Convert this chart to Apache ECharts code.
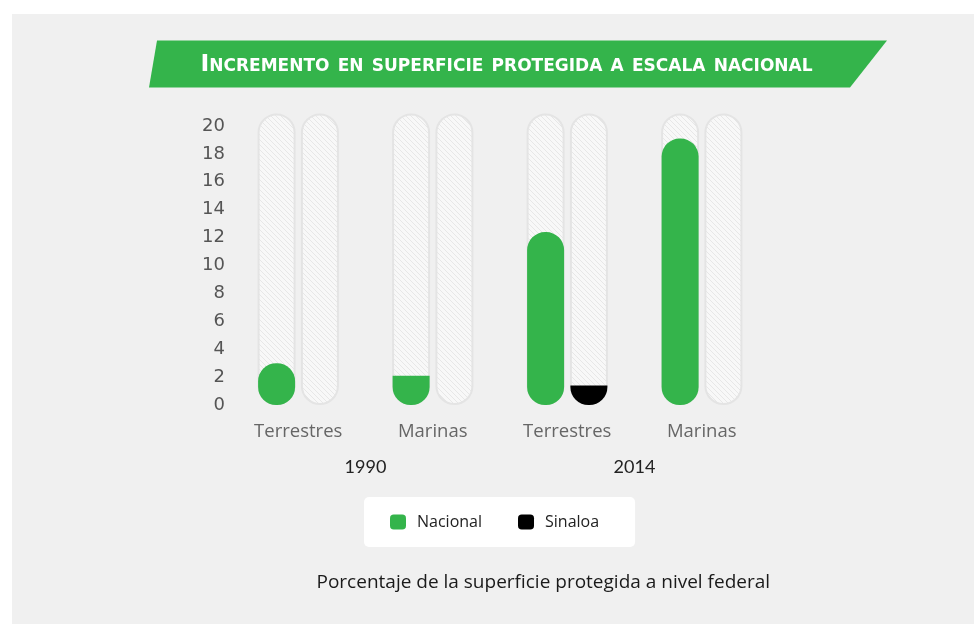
<!DOCTYPE html>
<html>
<head>
<meta charset="utf-8">
<script src="https://cdn.jsdelivr.net/npm/echarts@6/dist/echarts.min.js"></script>
<style>
  html, body { margin: 0; padding: 0; background: #ffffff; }
  #chart { width: 974px; height: 624px; }
</style>
</head>
<body>
<div id="chart"></div>
<script>
// Categories and values (percent of surface under federal protection)
const categories = ['Terrestres', 'Marinas', 'Terrestres', 'Marinas'];
const years = ['1990', '2014'];
const nacional = [3.0, 2.1, 12.4, 19.1];
const sinaloa = [null, null, 1.4, null];
const yMin = 0;
const yMax = 20;
const yStep = 2;

const titleText = 'Incremento en superficie protegida a escala nacional';
const captionText = 'Porcentaje de la superficie protegida a nivel federal';

const GREEN = '#34b44b';
const BLACK = '#000000';
const TRACK_TOP = 20.9;   // height of the empty capsule behind each bar

// Diagonal hatch used to fill the empty capsules
function hatchPattern() {
  const s = 5;
  const c = document.createElement('canvas');
  c.width = s; c.height = s;
  const g = c.getContext('2d');
  g.fillStyle = '#f8f8f8';
  g.fillRect(0, 0, s, s);
  g.strokeStyle = '#e7e7e7';
  g.lineWidth = 1;
  g.beginPath();
  g.moveTo(-1, -1); g.lineTo(s + 1, s + 1);
  g.moveTo(-1, s - 1); g.lineTo(1, s + 1);
  g.moveTo(s - 1, -1); g.lineTo(s + 1, 1);
  g.stroke();
  return { image: c, repeat: 'repeat' };
}
const hatch = hatchPattern();

function capsuleItems(values, color) {
  return values.map(v => {
    if (v == null) return null;
    return {
      value: v,
      itemStyle: {
        color: color,
        borderRadius: v < 2.5 ? [0, 0, 18, 18] : 18
      }
    };
  });
}

const trackItem = {
  value: TRACK_TOP,
  itemStyle: { color: hatch, borderColor: '#e4e4e4', borderWidth: 2, borderRadius: 20 }
};
const trackData = categories.map(() => trackItem);

const chart = echarts.init(document.getElementById('chart'), null, { renderer: 'canvas' });

chart.setOption({
  backgroundColor: '#ffffff',
  animation: false,
  graphic: [
    { type: 'rect', z: -10, shape: { x: 12, y: 14, width: 962, height: 610 }, style: { fill: '#f0f0f0' } },
    { type: 'polygon', z: -5, shape: { points: [[157, 40.5], [887, 40.5], [850, 87.5], [149, 87.5]] }, style: { fill: '#34b44b' } },
    {
      type: 'text', z: 10, x: 506.5, y: 65,
      style: {
        text: titleText,
        font: 'small-caps bold 23.7px "DejaVu Sans", sans-serif',
        fill: '#ffffff', align: 'center', verticalAlign: 'middle'
      }
    },
    {
      type: 'text', z: 10, x: 316.5, y: 583,
      style: {
        text: captionText,
        font: '19px "Open Sans", sans-serif',
        fill: '#1a1a1a', align: 'left', verticalAlign: 'middle'
      }
    }
  ],
  legend: {
    data: ['Nacional', 'Sinaloa'],
    left: 364, top: 497,
    backgroundColor: '#ffffff',
    borderRadius: 5,
    padding: [17, 36, 17, 26],
    itemWidth: 16, itemHeight: 15, itemGap: 36,
    icon: 'roundRect',
    selectedMode: false,
    textStyle: { fontFamily: 'Open Sans', fontSize: 16, color: '#222222', padding: [0, 0, 0, 6] }
  },
  grid: { left: 231, right: 205, top: 126, bottom: 219 },
  xAxis: [
    {
      type: 'category', data: categories, position: 'bottom',
      axisLine: { show: false }, axisTick: { show: false },
      axisLabel: { margin: 17, fontFamily: 'Open Sans', fontSize: 18.5, color: '#666666' }
    },
    {
      type: 'category', data: categories, position: 'bottom', show: false
    },
    {
      type: 'category', data: years, position: 'bottom',
      axisLine: { show: false }, axisTick: { show: false },
      axisLabel: { margin: 53, fontFamily: 'Lato', fontSize: 18, color: '#222222' }
    }
  ],
  yAxis: {
    type: 'value', min: yMin, max: yMax, interval: yStep,
    axisLine: { show: false }, axisTick: { show: false }, splitLine: { show: false },
    axisLabel: { margin: 6, fontFamily: 'DejaVu Sans', fontSize: 18, color: '#555555', padding: [0, 0, 5, 0] }
  },
  series: [
    {
      name: 'fondo-n', type: 'bar', xAxisIndex: 0, data: trackData,
      barWidth: 38, barGap: '14%', clip: false, z: 1, silent: true
    },
    {
      name: 'fondo-s', type: 'bar', xAxisIndex: 0, data: trackData,
      barWidth: 38, barGap: '14%', clip: false, z: 1, silent: true
    },
    {
      name: 'Nacional', type: 'bar', xAxisIndex: 1, data: capsuleItems(nacional, GREEN),
      barWidth: 37, barGap: '17%', z: 3, itemStyle: { color: GREEN }
    },
    {
      name: 'Sinaloa', type: 'bar', xAxisIndex: 1, data: capsuleItems(sinaloa, BLACK),
      barWidth: 37, barGap: '17%', z: 3, itemStyle: { color: BLACK }
    }
  ]
});
</script>
</body>
</html>
